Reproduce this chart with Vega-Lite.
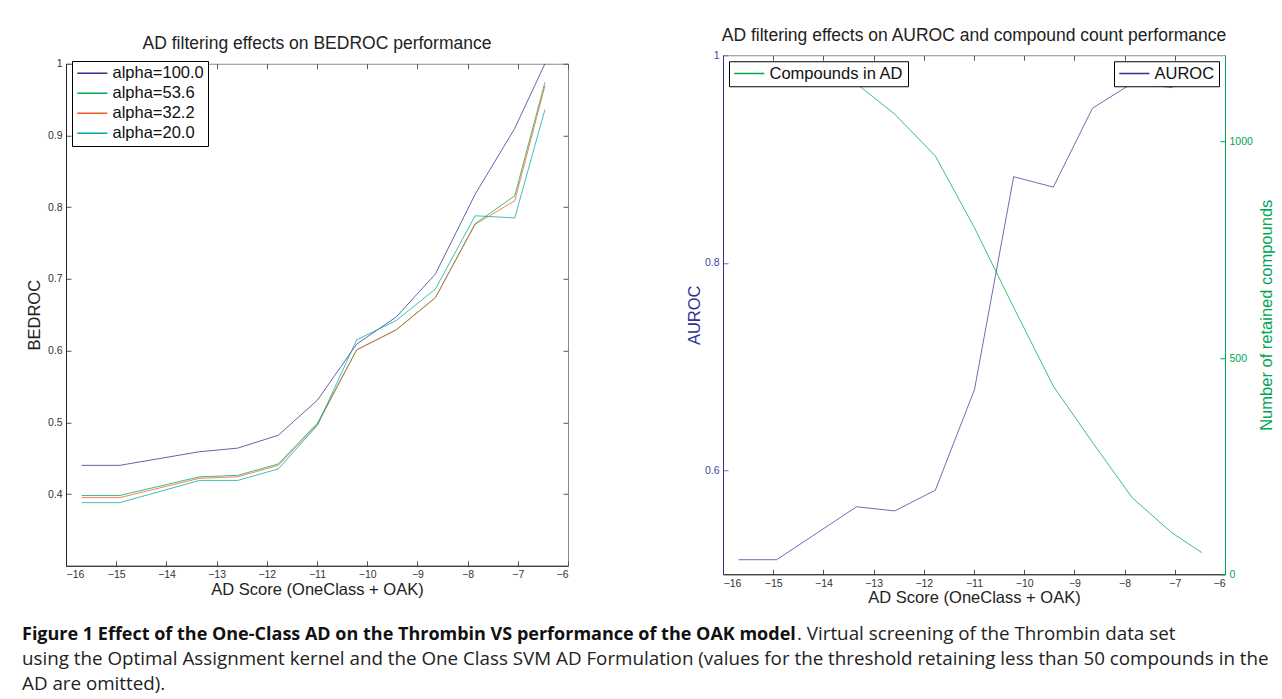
{
  "$schema": "https://vega.github.io/schema/vega-lite/v6.json",
  "background": "white",
  "padding": {"left": 22, "top": 26, "right": 4, "bottom": 6},
  "config": {
    "font": "Liberation Sans",
    "view": {"stroke": "#8a8a8a", "strokeWidth": 1},
    "axis": {
      "grid": false,
      "labelFont": "Liberation Sans",
      "titleFont": "Liberation Sans",
      "titleFontWeight": "normal",
      "labelColor": "#333333",
      "tickColor": "#555555",
      "domainColor": "#222222",
      "labelFontSize": 10.5,
      "titleFontSize": 16.5,
      "titleColor": "#222222",
      "tickSize": -5,
      "labelPadding": 9,
      "titlePadding": 4
    },
    "title": {"fontSize": 17.5, "fontWeight": "normal", "color": "#222222", "font": "Liberation Sans", "offset": 6},
    "legend": {
      "strokeColor": "#000000",
      "fillColor": "white",
      "padding": 4,
      "symbolType": "M-1,0H3.3",
      "symbolSize": 196,
      "symbolStrokeWidth": 1.5,
      "symbolOpacity": 1,
      "labelFontSize": 16.5,
      "labelFont": "Liberation Sans",
      "labelColor": "#111111",
      "labelOffset": 20,
      "rowPadding": 3,
      "offset": 6
    }
  },
  "datasets": {
    "bedroc": [
      {"score": -15.69, "series": "alpha=100.0", "bedroc": 0.44},
      {"score": -14.93, "series": "alpha=100.0", "bedroc": 0.44},
      {"score": -13.34, "series": "alpha=100.0", "bedroc": 0.459},
      {"score": -12.58, "series": "alpha=100.0", "bedroc": 0.464},
      {"score": -11.77, "series": "alpha=100.0", "bedroc": 0.482},
      {"score": -10.99, "series": "alpha=100.0", "bedroc": 0.531},
      {"score": -10.21, "series": "alpha=100.0", "bedroc": 0.609},
      {"score": -9.42, "series": "alpha=100.0", "bedroc": 0.647},
      {"score": -8.64, "series": "alpha=100.0", "bedroc": 0.707},
      {"score": -7.85, "series": "alpha=100.0", "bedroc": 0.818},
      {"score": -7.06, "series": "alpha=100.0", "bedroc": 0.91},
      {"score": -6.46, "series": "alpha=100.0", "bedroc": 1.0},
      {"score": -15.69, "series": "alpha=53.6", "bedroc": 0.398},
      {"score": -14.93, "series": "alpha=53.6", "bedroc": 0.398},
      {"score": -13.34, "series": "alpha=53.6", "bedroc": 0.424},
      {"score": -12.58, "series": "alpha=53.6", "bedroc": 0.426},
      {"score": -11.77, "series": "alpha=53.6", "bedroc": 0.442},
      {"score": -10.99, "series": "alpha=53.6", "bedroc": 0.499},
      {"score": -10.21, "series": "alpha=53.6", "bedroc": 0.601},
      {"score": -9.42, "series": "alpha=53.6", "bedroc": 0.629},
      {"score": -8.64, "series": "alpha=53.6", "bedroc": 0.674},
      {"score": -7.85, "series": "alpha=53.6", "bedroc": 0.777},
      {"score": -7.06, "series": "alpha=53.6", "bedroc": 0.816},
      {"score": -6.46, "series": "alpha=53.6", "bedroc": 0.974},
      {"score": -15.69, "series": "alpha=32.2", "bedroc": 0.395},
      {"score": -14.93, "series": "alpha=32.2", "bedroc": 0.395},
      {"score": -13.34, "series": "alpha=32.2", "bedroc": 0.422},
      {"score": -12.58, "series": "alpha=32.2", "bedroc": 0.424},
      {"score": -11.77, "series": "alpha=32.2", "bedroc": 0.44},
      {"score": -10.99, "series": "alpha=32.2", "bedroc": 0.497},
      {"score": -10.21, "series": "alpha=32.2", "bedroc": 0.601},
      {"score": -9.42, "series": "alpha=32.2", "bedroc": 0.629},
      {"score": -8.64, "series": "alpha=32.2", "bedroc": 0.674},
      {"score": -7.85, "series": "alpha=32.2", "bedroc": 0.776},
      {"score": -7.06, "series": "alpha=32.2", "bedroc": 0.809},
      {"score": -6.46, "series": "alpha=32.2", "bedroc": 0.969},
      {"score": -15.69, "series": "alpha=20.0", "bedroc": 0.388},
      {"score": -14.93, "series": "alpha=20.0", "bedroc": 0.388},
      {"score": -13.34, "series": "alpha=20.0", "bedroc": 0.419},
      {"score": -12.58, "series": "alpha=20.0", "bedroc": 0.419},
      {"score": -11.77, "series": "alpha=20.0", "bedroc": 0.435},
      {"score": -10.99, "series": "alpha=20.0", "bedroc": 0.496},
      {"score": -10.21, "series": "alpha=20.0", "bedroc": 0.615},
      {"score": -9.42, "series": "alpha=20.0", "bedroc": 0.642},
      {"score": -8.64, "series": "alpha=20.0", "bedroc": 0.686},
      {"score": -7.85, "series": "alpha=20.0", "bedroc": 0.788},
      {"score": -7.06, "series": "alpha=20.0", "bedroc": 0.785},
      {"score": -6.46, "series": "alpha=20.0", "bedroc": 0.936}
    ],
    "auroc": [
      {"score": -15.69, "auroc": 0.514, "compounds": 1175},
      {"score": -14.93, "auroc": 0.514, "compounds": 1160},
      {"score": -13.34, "auroc": 0.565, "compounds": 1134},
      {"score": -12.58, "auroc": 0.561, "compounds": 1064},
      {"score": -11.77, "auroc": 0.581, "compounds": 967},
      {"score": -10.99, "auroc": 0.678, "compounds": 801},
      {"score": -10.21, "auroc": 0.883, "compounds": 617},
      {"score": -9.42, "auroc": 0.873, "compounds": 435},
      {"score": -8.64, "auroc": 0.949, "compounds": 305},
      {"score": -7.85, "auroc": 0.973, "compounds": 177},
      {"score": -7.06, "auroc": 0.969, "compounds": 96},
      {"score": -6.46, "auroc": 0.985, "compounds": 50}
    ]
  },
  "spacing": 18,
  "vconcat": [
    {
      "hconcat": [
        {
          "title": {"text": "AD filtering effects on BEDROC performance"},
          "width": 502,
          "height": 502,
          "data": {"name": "bedroc"},
          "layer": [
            {
              "mark": {"type": "line", "strokeWidth": 1, "strokeOpacity": 0.75, "clip": true},
              "encoding": {
                "x": {
                  "field": "score", "type": "quantitative",
                  "scale": {"domain": [-16, -6], "nice": false, "zero": false},
                  "axis": {"orient": "bottom", "values": [-16, -15, -14, -13, -12, -11, -10, -9, -8, -7, -6], "title": "AD Score (OneClass + OAK)", "titlePadding": 1}
                },
                "y": {
                  "field": "bedroc", "type": "quantitative",
                  "scale": {"domain": [0.3, 1], "nice": false, "zero": false},
                  "axis": {"values": [0.4, 0.5, 0.6, 0.7, 0.8, 0.9, 1], "format": "~g", "title": "BEDROC", "titlePadding": 5}
                },
                "color": {
                  "field": "series", "type": "nominal",
                  "scale": {"domain": ["alpha=100.0", "alpha=53.6", "alpha=32.2", "alpha=20.0"], "range": ["#2e3192", "#00a651", "#f15a24", "#00a99d"]},
                  "legend": {"orient": "top-left", "title": null}
                }
              }
            },
            {
              "mark": {"type": "line", "opacity": 0},
              "encoding": {
                "x": {"field": "score", "type": "quantitative", "axis": {"orient": "top", "labels": false, "title": null, "domain": false, "values": [-16, -15, -14, -13, -12, -11, -10, -9, -8, -7, -6]}},
                "y": {"field": "bedroc", "type": "quantitative", "axis": {"orient": "right", "labels": false, "title": null, "domain": false, "values": [0.4, 0.5, 0.6, 0.7, 0.8, 0.9, 1]}},
                "detail": {"field": "series"}
              }
            }
          ],
          "resolve": {"axis": {"x": "independent", "y": "independent"}}
        },
        {
          "title": {"text": "AD filtering effects on AUROC and compound count performance"},
          "width": 502,
          "height": 519,
          "data": {"name": "auroc"},
          "layer": [
            {
              "mark": {"type": "line", "strokeWidth": 1, "strokeOpacity": 0.7, "clip": true},
              "encoding": {
                "x": {
                  "field": "score", "type": "quantitative",
                  "scale": {"domain": [-16, -6], "nice": false, "zero": false},
                  "axis": {"orient": "bottom", "values": [-16, -15, -14, -13, -12, -11, -10, -9, -8, -7, -6], "title": "AD Score (OneClass + OAK)", "titlePadding": 1}
                },
                "y": {
                  "field": "auroc", "type": "quantitative",
                  "scale": {"domain": [0.5, 1], "nice": false, "zero": false},
                  "axis": {"orient": "left", "values": [0.6, 0.8, 1], "format": "~g", "title": "AUROC", "titleColor": "#2e3192", "labelColor": "#3b44a6", "domainColor": "#2e3192", "tickColor": "#6a6fc0", "titlePadding": 2}
                },
                "color": {
                  "datum": "AUROC", "type": "nominal",
                  "scale": {"domain": ["AUROC"], "range": ["#2e3192"]},
                  "legend": {"orient": "top-right", "title": null}
                }
              }
            },
            {
              "mark": {"type": "line", "strokeWidth": 1, "strokeOpacity": 0.75, "clip": true},
              "encoding": {
                "x": {"field": "score", "type": "quantitative", "axis": {"orient": "top", "labels": false, "title": null, "domain": false, "values": [-16, -15, -14, -13, -12, -11, -10, -9, -8, -7, -6]}},
                "y": {
                  "field": "compounds", "type": "quantitative",
                  "scale": {"domain": [0, 1200], "nice": false, "zero": false},
                  "axis": {"orient": "right", "values": [0, 500, 1000], "format": "d", "title": "Number of retained compounds", "titleAngle": 270, "titleBaseline": "top", "titleColor": "#00a651", "labelColor": "#00a651", "domainColor": "#00a651", "tickColor": "#00a651", "titlePadding": 6}
                },
                "color": {
                  "datum": "Compounds in AD", "type": "nominal",
                  "scale": {"domain": ["Compounds in AD"], "range": ["#00a651"]},
                  "legend": {"orient": "top-left", "title": null}
                }
              }
            }
          ],
          "resolve": {"scale": {"y": "independent", "color": "independent"}, "axis": {"x": "independent", "y": "independent"}, "legend": {"color": "independent"}}
        }
      ],
      "spacing": 116,
      "center": true
    },
    {
      "width": 1250,
      "height": 50,
      "view": {"stroke": null},
      "data": {"values": [
        {"line": 1, "part": "start", "weight": "bold", "text": "Figure 1 Effect of the One-Class AD on the Thrombin VS performance of the OAK model"},
        {"line": 1, "part": "cont", "weight": "normal", "text": ". Virtual screening of the Thrombin data set"},
        {"line": 2, "part": "start", "weight": "normal", "text": "using the Optimal Assignment kernel and the One Class SVM AD Formulation (values for the threshold retaining less than 50 compounds in the"},
        {"line": 3, "part": "start", "weight": "normal", "text": "AD are omitted)."}
      ]},
      "layer": [
        {
          "transform": [{"filter": "datum.weight === 'bold'"}],
          "mark": {"type": "text", "font": "Open Sans", "fontWeight": "bold", "fontSize": 18, "align": "left", "baseline": "alphabetic", "color": "#111111"},
          "encoding": {
            "x": {"field": "part", "type": "nominal", "scale": {"type": "point", "domain": ["start", "cont"], "range": [-44, 731], "padding": 0}, "axis": null},
            "y": {"field": "line", "type": "ordinal", "scale": {"type": "point", "domain": [1, 2, 3], "range": [0, 50], "padding": 0}, "axis": null},
            "text": {"field": "text"}
          }
        },
        {
          "transform": [{"filter": "datum.weight === 'normal'"}],
          "mark": {"type": "text", "font": "Open Sans", "fontSize": 18.8, "align": "left", "baseline": "alphabetic", "color": "#222222"},
          "encoding": {
            "x": {"field": "part", "type": "nominal", "scale": {"type": "point", "domain": ["start", "cont"], "range": [-44, 731], "padding": 0}, "axis": null},
            "y": {"field": "line", "type": "ordinal", "scale": {"type": "point", "domain": [1, 2, 3], "range": [0, 50], "padding": 0}, "axis": null},
            "text": {"field": "text"}
          }
        }
      ]
    }
  ]
}
